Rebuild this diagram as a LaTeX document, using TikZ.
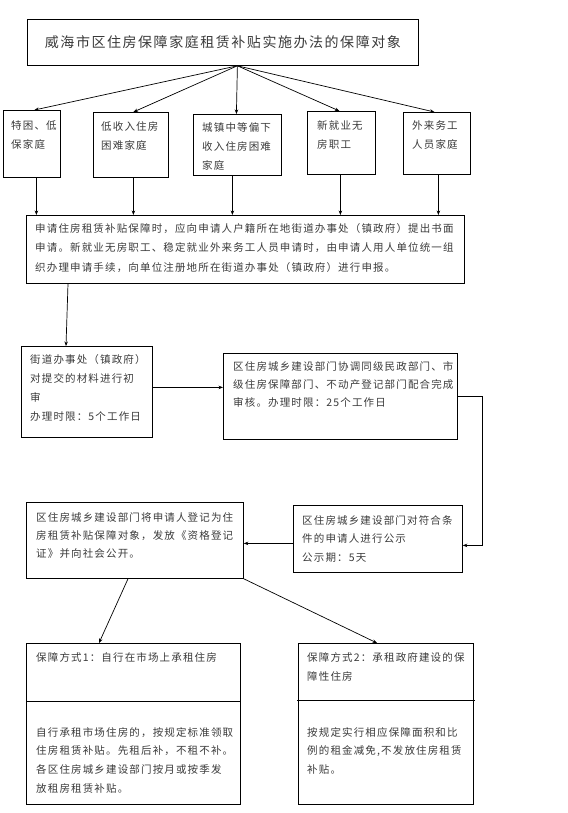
\documentclass[tikz,border=0pt]{standalone}
\usepackage{fontspec}
\newfontfamily\cjk[LetterSpace=11]{Noto Sans CJK SC}
\usetikzlibrary{arrows.meta}
\definecolor{textgray}{HTML}{3A3A3A}
\tikzset{
  box/.style={draw, line width=0.8pt, anchor=north west, inner sep=0pt},
  txt/.style={anchor=north west, inner sep=0pt, align=left, text=textgray,
    font=\cjk\fontsize{10.5}{#1}\selectfont},
  txt/.default=19,
  arr/.style={-{Stealth[length=4.5pt,width=3.5pt]}, line width=0.7pt},
  ln/.style={line width=0.7pt}
}
\begin{document}
\begin{tikzpicture}[x=1pt,y=-1pt]
\useasboundingbox (0,0) rectangle (567,813);
% title
\node[box, minimum width=391pt, minimum height=46pt, text=textgray,
  font=\cjk\fontsize{14}{16}\selectfont] (title) at (27,19)
  {威海市区住房保障家庭租赁补贴实施办法的保障对象};
% five target groups
\node[box, minimum width=57pt, minimum height=67pt] (b1) at (3,110) {};
\node[box, minimum width=75pt, minimum height=65pt] (b2) at (93,112) {};
\node[box, minimum width=88pt, minimum height=61pt] (b3) at (193,114) {};
\node[box, minimum width=68pt, minimum height=63pt] (b4) at (307,111) {};
\node[box, minimum width=67pt, minimum height=62pt] (b5) at (403,112) {};
\node[txt] (t1) at (11,120) {特困、低\\保家庭};
\node[txt] (t2) at (101,121) {低收入住房\\困难家庭};
\node[txt] (t3) at (202,122) {城镇中等偏下\\收入住房困难\\家庭};
\node[txt] (t4) at (317,120) {新就业无\\房职工};
\node[txt] (t5) at (412,120) {外来务工\\人员家庭};
% application box
\node[box, minimum width=438pt, minimum height=68pt] (apply) at (26,215) {};
\node[txt=19.5] (tapply) at (35,223) {申请住房租赁补贴保障时，应向申请人户籍所在地街道办事处（镇政府）提出书面\\申请。新就业无房职工、稳定就业外来务工人员申请时，由申请人用人单位统一组\\织办理申请手续，向单位注册地所在街道办事处（镇政府）进行申报。};
% street office
\node[box, minimum width=131pt, minimum height=91pt] (street) at (21,346) {};
\node[txt] (tstreet) at (30,354) {街道办事处（镇政府）\\对提交的材料进行初\\审\\办理时限：5个工作日};
% review
\node[box, minimum width=234pt, minimum height=86pt] (review) at (223,353) {};
\node[txt=18] (treview) at (233,361) {区住房城乡建设部门协调同级民政部门、市\\级住房保障部门、不动产登记部门配合完成\\审核。办理时限：25个工作日};
% publicity
\node[box, minimum width=169pt, minimum height=67pt] (pub) at (293,505) {};
\node[txt=18.5] (tpub) at (302,515) {区住房城乡建设部门对符合条\\件的申请人进行公示\\公示期：5天};
% registration
\node[box, minimum width=217pt, minimum height=76pt] (reg) at (26,502) {};
\node[txt=18] (treg) at (36,512) {区住房城乡建设部门将申请人登记为住\\房租赁补贴保障对象，发放《资格登记\\证》并向社会公开。};
% method 1
\node[box, minimum width=214pt, minimum height=161pt] (m1) at (26,643) {};
\draw[ln] ([yshift=-58pt]m1.north west) -- ([yshift=-58pt]m1.north east);
\node[txt] (m1h) at (36,652) {保障方式1：自行在市场上承租住房};
\node[txt=18.7] (m1b) at (36,727) {自行承租市场住房的，按规定标准领取\\住房租赁补贴。先租后补，不租不补。\\各区住房城乡建设部门按月或按季发\\放租房租赁补贴。};
% method 2
\node[box, minimum width=175pt, minimum height=161pt] (m2) at (298,643) {};
\draw[ln] ([yshift=-57pt,xshift=-1pt]m2.north west) -- ([yshift=-57pt,xshift=1pt]m2.north east);
\node[txt] (m2h) at (307,652) {保障方式2：承租政府建设的保\\障性住房};
\node[txt=18.7] (m2b) at (307,727) {按规定实行相应保障面积和比\\例的租金减免,不发放住房租赁\\补贴。};
% connectors: title to groups
\coordinate (src) at ([xshift=14.5pt]title.south);
\draw[arr] (src) -- ([xshift=2.5pt]b1.north);
\draw[arr] (src) -- ([xshift=2.5pt]b2.north);
\draw[arr] (src) -- ([xshift=-1pt]b3.north);
\draw[arr] (src) -- ([xshift=-2pt]b4.north);
\draw[arr] (src) -- ([xshift=-2.5pt]b5.north);
% groups to application
\coordinate (s1) at ([xshift=4.5pt]b1.south);
\coordinate (s2) at ([xshift=2.5pt]b2.south);
\coordinate (s3) at ([xshift=-5pt]b3.south);
\coordinate (s4) at ([xshift=-1pt]b4.south);
\coordinate (s5) at ([xshift=1.5pt]b5.south);
\foreach \s in {s1,s2,s3,s4,s5} \draw[arr] (\s) -- (\s |- apply.north);
% application to street office
\draw[arr] ([xshift=42pt]apply.south west) -- ([xshift=45pt]street.north west);
% street to review
\coordinate (s6) at ([yshift=4.5pt]street.east);
\draw[arr] (s6) -- (s6 -| review.west);
% review to publicity
\draw[arr] (review.east) -- ++(25,0) |- ([yshift=-6.5pt]pub.east);
% publicity to registration
\coordinate (s7) at ([yshift=-4.5pt]pub.west);
\draw[arr] (s7) -- (s7 -| reg.east);
% registration to methods
\draw[arr] ([xshift=102pt]reg.south west) -- ([xshift=73pt]m1.north west);
\draw[arr] (reg.south east) -- ([xshift=79pt]m2.north west);
\end{tikzpicture}
\end{document}
